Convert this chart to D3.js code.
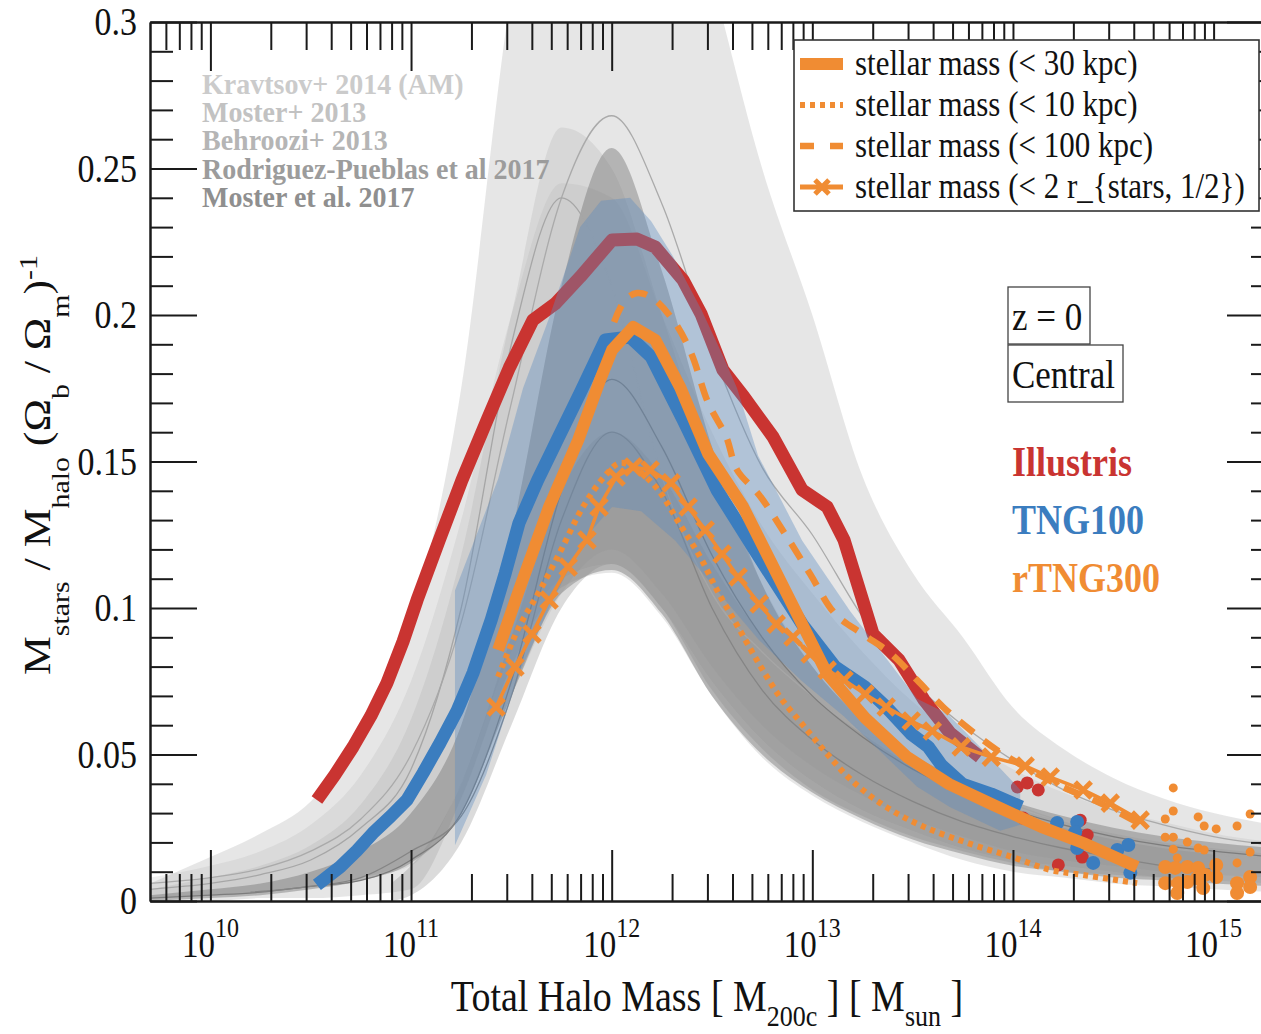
<!DOCTYPE html>
<html><head><meta charset="utf-8">
<script src="https://cdn.jsdelivr.net/npm/d3@7"></script>
<style>
body{margin:0;background:#fff;}
text{font-family:"Liberation Serif","Times New Roman",serif;}
</style></head><body>
<svg id="chart" width="1261" height="1034"></svg>
<script>
// ---- empirical model bands (log10 halo mass grid) ----
const massGrid = [9.7,10,10.25,10.5,10.75,11,11.25,11.5,11.75,12,12.25,12.5,12.75,13,13.25,13.5,13.75,14,14.25,14.5,14.75,15,15.3];
const kravtsovHi = [0.006,0.015,0.023,0.034,0.057,0.095,0.175,0.31,0.39,0.41,0.38,0.315,0.25,0.2,0.145,0.112,0.09,0.066,0.052,0.042,0.035,0.03,0.026];
const kravtsovLo = [0,0,0.001,0.001,0.002,0.004,0.035,0.08,0.107,0.112,0.097,0.07,0.049,0.036,0.027,0.02,0.014,0.01,0.008,0.006,0.005,0.004,0.003];
const moster13Hi = [0.004,0.008,0.012,0.019,0.033,0.062,0.118,0.2,0.264,0.25,0.2,0.148,0.108,0.08,0.061,0.048,0.039,0.032,0.027,0.023,0.02,0.018,0.016];
const moster13Lo = [0.001,0.002,0.003,0.005,0.008,0.012,0.04,0.085,0.11,0.115,0.1,0.075,0.055,0.041,0.031,0.024,0.018,0.014,0.012,0.01,0.008,0.007,0.006];
const behrooziHi = [0.008,0.012,0.017,0.026,0.043,0.075,0.13,0.2,0.245,0.24,0.2,0.16,0.128,0.105,0.085,0.068,0.055,0.045,0.037,0.031,0.027,0.023,0.02];
const behrooziLo = [0.001,0.002,0.003,0.005,0.008,0.014,0.03,0.07,0.105,0.12,0.105,0.08,0.06,0.046,0.036,0.028,0.022,0.017,0.014,0.012,0.01,0.009,0.008];
const rodriguezHi = [0.002,0.004,0.006,0.01,0.017,0.03,0.06,0.125,0.21,0.257,0.215,0.155,0.108,0.08,0.062,0.05,0.041,0.034,0.029,0.025,0.022,0.02,0.018];
const rodriguezLo = [0,0.001,0.002,0.004,0.007,0.013,0.03,0.07,0.105,0.113,0.098,0.07,0.05,0.037,0.028,0.021,0.016,0.012,0.01,0.008,0.007,0.006,0.005];
const moster17Grid = [10.9,11,11.25,11.5,11.75,12,12.25,12.5,12.75,13,13.25,13.5,13.75,14,14.25,14.5,14.75,15];
const moster17Hi = [0.006,0.012,0.04,0.09,0.14,0.16,0.145,0.115,0.09,0.07,0.057,0.046,0.037,0.03,0.025,0.021,0.018,0.016];
const moster17Lo = [0,0.002,0.02,0.06,0.1,0.115,0.1,0.072,0.052,0.038,0.029,0.022,0.017,0.013,0.01,0.009,0.008,0.007];

// median relations (thin lines)
const behrooziMed = [0.006,0.008,0.011,0.017,0.028,0.05,0.095,0.17,0.24,0.268,0.238,0.188,0.148,0.125,0.097,0.075,0.06,0.048,0.038,0.031,0.026,0.022,0.019];
const moster13Med = [0.004,0.006,0.009,0.014,0.025,0.045,0.1,0.19,0.24,0.21,0.145,0.105,0.085,0.07,0.058,0.048,0.04,0.033,0.027,0.022,0.019,0.016,0.014];
const rodriguezMed = [0.001,0.002,0.003,0.005,0.007,0.014,0.03,0.075,0.14,0.178,0.155,0.118,0.09,0.07,0.056,0.045,0.037,0.031,0.026,0.022,0.019,0.017,0.015];
const moster17MedGrid = [10.2,10.5,10.75,11,11.25,11.5,11.75,12,12.25,12.5,12.75,13,13.25,13.5,13.75,14,14.25,14.5,14.75,15];
const moster17Med = [0.003,0.005,0.008,0.017,0.029,0.07,0.13,0.16,0.14,0.1,0.072,0.055,0.043,0.034,0.027,0.022,0.018,0.015,0.012,0.011];

// ---- simulations: [log10 M200c, fraction] ----
const illustris = [[10.531,0.0345],[10.62,0.043],[10.711,0.0526],[10.8,0.0632],[10.88,0.0744],[10.96,0.0885],[11.03,0.1027],[11.14,0.123],[11.254,0.1437],[11.379,0.1642],[11.49,0.182],[11.608,0.1983],[11.718,0.2038],[11.843,0.213],[12.002,0.2256],[12.127,0.2259],[12.217,0.2232],[12.356,0.2119],[12.446,0.2003],[12.555,0.1812],[12.66,0.172],[12.804,0.1584],[12.949,0.1403],[13.074,0.1345],[13.158,0.1232],[13.303,0.0911],[13.432,0.0823],[13.557,0.0686],[13.687,0.0573],[13.836,0.0491]];
const illustrisHalos = [[14.022,0.0389],[14.071,0.0403],[14.126,0.0379],[14.051,0.0283],[14.335,0.0276],[14.37,0.0225],[14.345,0.015],[14.226,0.0123]];

const tng100 = [[10.531,0.0055],[10.646,0.0116],[10.73,0.0172],[10.81,0.0232],[10.9,0.029],[10.98,0.0345],[11.06,0.0437],[11.145,0.054],[11.23,0.065],[11.31,0.078],[11.4,0.096],[11.47,0.112],[11.538,0.129],[11.63,0.1435],[11.728,0.1573],[11.843,0.1734],[11.968,0.1915],[12.092,0.1925],[12.197,0.1857],[12.356,0.1642],[12.525,0.1403],[12.735,0.1174],[12.949,0.0945],[13.114,0.0799],[13.263,0.073],[13.368,0.0662],[13.493,0.057],[13.578,0.0526],[13.643,0.0464],[13.748,0.0399],[13.892,0.0365],[14.042,0.0321]];
const tng100BandHi = [[11.219,0.106],[11.434,0.144],[11.558,0.175],[11.683,0.198],[11.843,0.23],[11.947,0.239],[12.092,0.24],[12.197,0.232],[12.306,0.22],[12.446,0.202],[12.555,0.186],[12.625,0.175],[12.73,0.152],[12.949,0.123],[13.188,0.099],[13.522,0.069],[13.672,0.064],[13.851,0.0515],[14.036,0.038]];
const tng100BandLo = [[11.219,0.019],[11.374,0.043],[11.538,0.0775],[11.688,0.1],[11.857,0.123],[12.002,0.1345],[12.147,0.133],[12.316,0.123],[12.525,0.106],[12.735,0.089],[12.949,0.075],[13.158,0.063],[13.522,0.039],[13.687,0.032],[13.936,0.024],[14.036,0.026]];
const tng100Halos = [[14.22,0.0266],[14.32,0.027],[14.31,0.0235],[14.32,0.0181],[14.4,0.013],[14.52,0.0174],[14.575,0.0191],[14.585,0.0096]];

const rtng30kpc = [[11.434,0.0857],[11.538,0.1061],[11.688,0.1345],[11.833,0.1573],[11.942,0.1778],[12.002,0.1881],[12.107,0.1959],[12.217,0.1915],[12.341,0.1754],[12.481,0.1526],[12.655,0.1345],[12.864,0.1061],[13.074,0.0775],[13.263,0.0625],[13.473,0.0491],[13.682,0.0399],[13.892,0.0331],[14.141,0.0253],[14.35,0.0198],[14.619,0.0116]];
const rtng10kpc = [[11.434,0.0765],[11.538,0.0935],[11.643,0.1061],[11.748,0.1198],[11.857,0.1345],[11.962,0.1447],[12.042,0.1495],[12.127,0.1471],[12.232,0.1403],[12.336,0.129],[12.441,0.1174],[12.525,0.1061],[12.63,0.0935],[12.735,0.0809],[12.839,0.0696],[12.949,0.0604],[13.074,0.0502],[13.198,0.041],[13.368,0.0321],[13.557,0.0253],[13.787,0.0195],[13.997,0.015],[14.186,0.0106],[14.35,0.0089],[14.619,0.0061]];
const rtng100kpc = [[12.012,0.1976],[12.067,0.2051],[12.127,0.2075],[12.197,0.2061],[12.306,0.1983],[12.396,0.187],[12.481,0.17],[12.571,0.1584],[12.625,0.1471],[12.735,0.1386],[12.864,0.1253],[12.989,0.1116],[13.114,0.098],[13.253,0.091],[13.388,0.0846],[13.522,0.0754],[13.652,0.0662],[13.787,0.0584],[13.921,0.0515],[14.086,0.0447],[14.25,0.0389],[14.435,0.0334],[14.634,0.0263]];
const rtng2rhalf = [[11.424,0.0662],[11.518,0.0799],[11.603,0.0911],[11.688,0.1027],[11.783,0.114],[11.877,0.1232],[11.937,0.1345],[12.022,0.1447],[12.107,0.1481],[12.192,0.1471],[12.296,0.1427],[12.381,0.1345],[12.466,0.1266],[12.55,0.1184],[12.63,0.1106],[12.735,0.1014],[12.82,0.0945],[12.904,0.0901],[12.989,0.0843],[13.074,0.0788],[13.158,0.0754],[13.263,0.0706],[13.368,0.0662],[13.493,0.0614],[13.598,0.058],[13.742,0.0526],[13.892,0.0491],[14.061,0.0461],[14.186,0.0423],[14.35,0.0379],[14.485,0.0334],[14.634,0.0276]];
const rtngHalosSmall = [[14.799,0.0386],[14.799,0.0307],[14.759,0.028],[14.923,0.0287],[14.953,0.0256],[15.013,0.0246],[15.117,0.0256],[15.182,0.0297],[14.869,0.0201],[14.923,0.0181],[14.953,0.0174],[14.799,0.0177],[14.819,0.0147],[15.117,0.013],[15.182,0.0167],[14.759,0.0218],[14.799,0.0218]];
const rtngHalosLarge = [[14.759,0.0116],[14.809,0.0113],[14.869,0.0116],[14.923,0.0113],[14.958,0.0089],[15.013,0.0123],[15.013,0.0082],[14.759,0.0061],[14.824,0.0061],[14.819,0.0027],[14.948,0.0044],[15.117,0.0061],[15.117,0.0027],[15.182,0.0082],[15.182,0.0048],[14.869,0.0065],[14.918,0.0078]];

// ---- text content ----
const modelNames = ["Kravtsov+ 2014 (AM)","Moster+ 2013","Behroozi+ 2013","Rodriguez-Pueblas et al 2017","Moster et al. 2017"];
const modelColors = ["#cbcbcb","#c2c2c2","#b5b5b5","#9c9c9c","#8f8f8f"];
const legendLabels = ["stellar mass (< 30 kpc)","stellar mass (< 10 kpc)","stellar mass (< 100 kpc)","stellar mass (< 2 r_{stars, 1/2})"];
const simNames = ["Illustris","TNG100","rTNG300"];
const xTickExponents = [10,11,12,13,14,15];
const yTickValues = [0,0.05,0.1,0.15,0.2,0.25,0.3];
const yTickLabels = ["0","0.05","0.1","0.15","0.2","0.25","0.3"];

const RED = "#c93431", BLUE = "#3b7dbf", ORANGE = "#f08c33";
const SY = 1.15; // vertical stretch of lettering

const svg = d3.select("#chart");
const x = d3.scaleLog().domain([5e9, 2e15]).range([150, 1274]);
const y = d3.scaleLinear().domain([0, 0.3]).range([901, 22]);
const X = m => x(Math.pow(10, m));

svg.append("defs").append("clipPath").attr("id", "plotclip")
  .append("rect").attr("x", 150).attr("y", 22).attr("width", 1124).attr("height", 879);
const plot = svg.append("g").attr("clip-path", "url(#plotclip)");

const zip = (g, a, b) => g.map((m, i) => [m, a[i], b[i]]);
const bandArea = d3.area().x(d => X(d[0])).y0(d => y(d[1])).y1(d => y(d[2])).curve(d3.curveMonotoneX);
const medLine = d3.line().x(d => X(d[0])).y(d => y(d[1])).curve(d3.curveMonotoneX);
const smoothLine = d3.line().x(d => X(d[0])).y(d => y(d[1])).curve(d3.curveCatmullRom.alpha(0.5));
const polyLine = d3.line().x(d => X(d[0])).y(d => y(d[1]));

// gray model bands
[[massGrid, kravtsovLo, kravtsovHi, "#bbbbbb", 0.36],
 [massGrid, moster13Lo, moster13Hi, "#aaaaaa", 0.25],
 [massGrid, behrooziLo, behrooziHi, "#aaaaaa", 0.2],
 [massGrid, rodriguezLo, rodriguezHi, "#707070", 0.42],
 [moster17Grid, moster17Lo, moster17Hi, "#888888", 0.3]
].forEach(([g, lo, hi, c, o]) => {
  plot.append("path").attr("d", bandArea(zip(g, lo, hi))).attr("fill", c).attr("fill-opacity", o);
});

// median relations
[[massGrid, behrooziMed, "#aaaaaa"],
 [massGrid, moster13Med, "#a6a6a6"],
 [massGrid, rodriguezMed, "#7c7c7c"],
 [moster17MedGrid, moster17Med, "#858585"]
].forEach(([g, v, c]) => {
  plot.append("path").attr("d", medLine(g.map((m, i) => [m, v[i]])))
    .attr("fill", "none").attr("stroke", c).attr("stroke-width", 1.3);
});

// Illustris
plot.append("path").attr("d", polyLine(illustris)).attr("fill", "none")
  .attr("stroke", RED).attr("stroke-width", 13).attr("stroke-linejoin", "round");
plot.selectAll("circle.ill").data(illustrisHalos).join("circle").attr("class", "ill")
  .attr("cx", d => X(d[0])).attr("cy", d => y(d[1])).attr("r", 6.5).attr("fill", RED);

// TNG100 scatter band (drawn over Illustris)
const bandPoly = tng100BandHi.concat(tng100BandLo.slice().reverse());
plot.append("path").attr("d", polyLine(bandPoly) + "Z").attr("fill", "#5b8cc0").attr("fill-opacity", 0.38);

// TNG100
plot.append("path").attr("d", polyLine(tng100)).attr("fill", "none")
  .attr("stroke", BLUE).attr("stroke-width", 13).attr("stroke-linejoin", "round");
plot.selectAll("circle.tng").data(tng100Halos).join("circle").attr("class", "tng")
  .attr("cx", d => X(d[0])).attr("cy", d => y(d[1])).attr("r", 7).attr("fill", BLUE);

// rTNG300 apertures
plot.append("path").attr("d", smoothLine(rtng10kpc)).attr("fill", "none")
  .attr("stroke", ORANGE).attr("stroke-width", 6).attr("stroke-dasharray", "5,5");
plot.append("path").attr("d", smoothLine(rtng100kpc)).attr("fill", "none")
  .attr("stroke", ORANGE).attr("stroke-width", 6.5).attr("stroke-dasharray", "18,13");
plot.append("path").attr("d", polyLine(rtng30kpc)).attr("fill", "none")
  .attr("stroke", ORANGE).attr("stroke-width", 12).attr("stroke-linejoin", "round");
plot.append("path").attr("d", polyLine(rtng2rhalf)).attr("fill", "none")
  .attr("stroke", ORANGE).attr("stroke-width", 3.5);
const cross = (g, cx, cy, s) => g.append("path")
  .attr("d", `M${cx - s},${cy - s}L${cx + s},${cy + s}M${cx - s},${cy + s}L${cx + s},${cy - s}`)
  .attr("stroke", ORANGE).attr("stroke-width", 5).attr("fill", "none");
rtng2rhalf.forEach(d => cross(plot, X(d[0]), y(d[1]), 8));
plot.selectAll("circle.rs").data(rtngHalosSmall).join("circle").attr("class", "rs")
  .attr("cx", d => X(d[0])).attr("cy", d => y(d[1])).attr("r", 4.5).attr("fill", ORANGE);
plot.selectAll("circle.rl").data(rtngHalosLarge).join("circle").attr("class", "rl")
  .attr("cx", d => X(d[0])).attr("cy", d => y(d[1])).attr("r", 7).attr("fill", ORANGE);

// ---- axes ----
const xMajor = xTickExponents.map(e => Math.pow(10, e));
const xMinor = [];
for (let e = 9; e <= 15; e++) for (let k = 2; k <= 9; k++) {
  const v = k * Math.pow(10, e);
  if (v > 5e9 && v < 2e15) xMinor.push(v);
}
const yMinor = d3.range(1, 30).map(i => i / 100).filter(v => Math.round(v * 100) % 5 !== 0);
const styleAxis = g => { g.selectAll("path,line").attr("stroke", "#1a1a1a").attr("stroke-width", 2); g.selectAll("text").remove(); };

svg.append("g").attr("transform", "translate(0,901)").call(d3.axisBottom(x).tickValues(xMajor).tickSize(-51).tickSizeOuter(0)).call(styleAxis);
svg.append("g").attr("transform", "translate(0,901)").call(d3.axisBottom(x).tickValues(xMinor).tickSize(-27).tickSizeOuter(0)).call(styleAxis);
svg.append("g").attr("transform", "translate(0,22)").call(d3.axisTop(x).tickValues(xMajor).tickSize(-49).tickSizeOuter(0)).call(styleAxis);
svg.append("g").attr("transform", "translate(0,22)").call(d3.axisTop(x).tickValues(xMinor).tickSize(-28).tickSizeOuter(0)).call(styleAxis);
svg.append("g").attr("transform", "translate(150,0)").call(d3.axisLeft(y).tickValues(yTickValues).tickSize(-47).tickSizeOuter(0)).call(styleAxis);
svg.append("g").attr("transform", "translate(150,0)").call(d3.axisLeft(y).tickValues(yMinor).tickSize(-23).tickSizeOuter(0)).call(styleAxis);
svg.append("g").attr("transform", "translate(1274,0)").call(d3.axisRight(y).tickValues(yTickValues).tickSize(-47).tickSizeOuter(0)).call(styleAxis);
svg.append("g").attr("transform", "translate(1274,0)").call(d3.axisRight(y).tickValues(yMinor).tickSize(-23).tickSizeOuter(0)).call(styleAxis);

const txt = (px, py, size, fill, weight, anchor, sy) => svg.append("text")
  .attr("transform", `translate(${px},${py}) scale(1,${sy || SY})`)
  .attr("font-size", size).attr("fill", fill || "#111")
  .attr("font-weight", weight || "normal").attr("text-anchor", anchor || "start");

// tick labels
yTickValues.forEach((v, i) => txt(137, y(v) + 13, 34, "#111", "normal", "end").text(yTickLabels[i]));
xMajor.forEach((v, i) => {
  const t = txt(x(v), 957, 33, "#111", "normal", "middle");
  t.append("tspan").text("10");
  t.append("tspan").attr("font-size", 24).attr("dy", -17).text(xTickExponents[i]);
});

// axis titles
const xt = txt(707, 1011, 38, "#111", "normal", "middle");
xt.append("tspan").text("Total Halo Mass [ M");
xt.append("tspan").attr("font-size", 26).attr("dy", 13).text("200c");
xt.append("tspan").attr("dy", -13).text(" ] [ M");
xt.append("tspan").attr("font-size", 26).attr("dy", 13).text("sun");
xt.append("tspan").attr("dy", -13).text(" ]");

const yt = svg.append("text").attr("transform", `translate(50,465) rotate(-90) scale(${SY},1)`)
  .attr("font-size", 38).attr("fill", "#111").attr("text-anchor", "middle");
[["M", 0, 38], ["stars", 19, 26], [" / M", -19, 38], ["halo", 19, 26], [" (\u03A9", -19, 38], ["b", 19, 26],
 [" / \u03A9", -19, 38], ["m", 19, 26], [")", -19, 38], ["-1", -13, 26]].forEach(([s, dy, fs]) => {
  yt.append("tspan").attr("dy", dy).attr("font-size", fs).text(s);
});

// model labels
modelNames.forEach((n, i) => txt(202, 94 + i * 28.2, 28, modelColors[i], "bold", "start", 1.08).text(n));

// legend
svg.append("rect").attr("x", 794).attr("y", 40).attr("width", 465).attr("height", 171)
  .attr("fill", "#fff").attr("stroke", "#333").attr("stroke-width", 1.6);
const legY = [64, 105, 146, 187];
const lg = svg.append("g");
lg.append("line").attr("x1", 800).attr("x2", 843).attr("y1", legY[0]).attr("y2", legY[0]).attr("stroke", ORANGE).attr("stroke-width", 12);
lg.append("line").attr("x1", 800).attr("x2", 843).attr("y1", legY[1]).attr("y2", legY[1]).attr("stroke", ORANGE).attr("stroke-width", 6).attr("stroke-dasharray", "5,5");
lg.append("line").attr("x1", 800).attr("x2", 843).attr("y1", legY[2]).attr("y2", legY[2]).attr("stroke", ORANGE).attr("stroke-width", 6.5).attr("stroke-dasharray", "14,16");
lg.append("line").attr("x1", 800).attr("x2", 843).attr("y1", legY[3]).attr("y2", legY[3]).attr("stroke", ORANGE).attr("stroke-width", 5);
cross(lg, 822, legY[3], 7);
legendLabels.forEach((l, i) => txt(855, legY[i] + 11, 31, "#111").text(l));

// z = 0 / Central boxes
svg.append("rect").attr("x", 1008).attr("y", 287).attr("width", 82).attr("height", 57).attr("fill", "#fff").attr("stroke", "#444").attr("stroke-width", 1.3);
svg.append("rect").attr("x", 1008).attr("y", 345).attr("width", 115).attr("height", 57).attr("fill", "#fff").attr("stroke", "#444").attr("stroke-width", 1.3);
txt(1012, 330, 35, "#111").text("z = 0");
txt(1012, 388, 35, "#111").text("Central");

// simulation names
[RED, BLUE, ORANGE].forEach((c, i) => txt(1012, 476 + i * 58, 36, c, "bold").text(simNames[i]));
</script></body></html>
